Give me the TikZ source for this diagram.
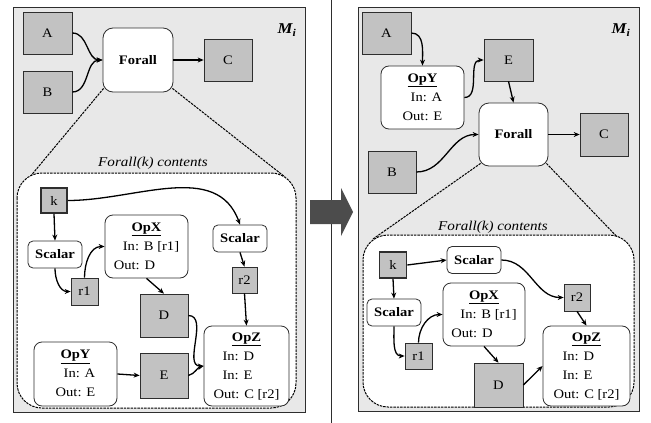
\documentclass[tikz,border=0pt]{standalone}
\usepackage{fontspec}
\setmainfont[FakeStretch=1.12]{Liberation Serif}
\usetikzlibrary{arrows.meta}
\definecolor{panelbg}{gray}{0.91}
\definecolor{boxgray}{gray}{0.76}
\definecolor{edge}{gray}{0.18}
\definecolor{bigarrow}{gray}{0.3}

\tikzset{
  every node/.style={font=\fontsize{13}{19}\selectfont},
  panel/.style={draw=edge, line width=0.8pt, fill=panelbg},
  data/.style={draw=edge, line width=0.7pt, fill=boxgray, inner sep=0pt},
  loopvar/.style={data, line width=1.6pt},
  forallbox/.style={draw=edge, line width=0.8pt, fill=white, rounded corners=10pt,
    minimum width=69pt, minimum height=63pt, font=\fontsize{13}{19}\selectfont\bfseries},
  opbox/.style={draw=edge, line width=0.8pt, fill=white, rounded corners=8pt,
    minimum width=83pt, minimum height=63pt, inner sep=2pt},
  scalarbox/.style={draw=edge, line width=0.8pt, fill=white, rounded corners=5pt,
    minimum width=54pt, minimum height=27pt, inner sep=1pt, font=\fontsize{13}{19}\selectfont\bfseries},
  contents/.style={draw=black, line width=1pt, dash pattern=on 2.4pt off 1pt, fill=white, rounded corners=25pt},
  zoomline/.style={draw=black, line width=1pt, dash pattern=on 2.4pt off 1pt},
  flow/.style={draw=black, line width=1.3pt, -{Stealth[length=6pt,width=5pt]}},
  tag/.style={font=\fontsize{13.5}{16}\selectfont\itshape},
  modname/.style={font=\fontsize{15}{18}\selectfont\bfseries\itshape},
}
\newcommand{\optext}[2]{\begin{tabular}{@{}l@{}}\multicolumn{1}{@{}c@{}}{\textbf{\underline{#1}}}\\#2\end{tabular}}

\begin{document}
\begin{tikzpicture}[x=1pt, y=-1pt]
\useasboundingbox (0,0) rectangle (651,423);

% ---------- left module ----------
\draw[panel] (13,7) rectangle (305,412);
\node[modname] (mL) at (287,30) {M\textsubscript{i}};

\node[data, minimum width=49pt, minimum height=42pt] (aL) at (47.5,33) {A};
\node[data, minimum width=49pt, minimum height=42pt] (bL) at (47.5,92) {B};
\node[forallbox, minimum width=70pt, minimum height=64pt] (fL) at (138,60) {Forall};
\node[data, minimum width=48pt, minimum height=42pt] (cL) at (228,60) {C};

\draw[flow] (aL.east) to[out=0,in=180] (fL.west);
\draw[flow] (bL.east) to[out=0,in=180] (fL.west);
\draw[flow] (fL.east) -- (cL.west);

\coordinate (zL1) at (19,190);
\coordinate (zL2) at (285,177);
\draw[zoomline] (fL.south west) ++(1,-4) -- (zL1);
\draw[zoomline] (fL.south east) ++(-1,-4) -- (zL2);
\draw[contents] (17,173) rectangle (296,408);
\node[tag] (tL) at (153,163) {Forall(k) contents};

\node[loopvar, minimum width=26pt, minimum height=25pt] (kL) at (54,200.5) {k};
\node[scalarbox] (s1L) at (55,254.5) {Scalar};
\node[data, minimum width=27pt, minimum height=27pt] (r1L) at (84.5,291.5) {r1};
\node[opbox] (xL) at (146.5,246.5) {\optext{OpX}{\hspace{9pt}In: B [r1]\\Out: D}};
\node[scalarbox] (s2L) at (240,238.5) {Scalar};
\node[data, minimum width=25pt, minimum height=26pt] (r2L) at (244.5,280) {r2};
\node[data, minimum width=48pt, minimum height=43pt] (dL) at (164,315.5) {D};
\node[opbox, minimum height=64pt] (yL) at (75.5,374) {\optext{OpY}{\hspace{8pt}In: A\\Out: E}};
\node[data, minimum width=48pt, minimum height=45pt] (eL) at (164,375.5) {E};
\node[opbox, minimum width=85pt, minimum height=80pt] (zL) at (246.5,366) {\optext{OpZ}{\hspace{9pt}In: D\\\hspace{9pt}In: E\\Out: C [r2]}};

\draw[flow] (kL.south) -- (s1L.north);
\draw[flow] (kL.east) to[out=0,in=110] (s2L.north);
\draw[flow] (s1L.south) to[out=-90,in=180] (r1L.west);
\draw[flow] (r1L.north) to[out=90,in=180] (xL.west);
\draw[flow] (xL.south) -- (dL.north);
\draw[flow] (s2L.south) -- (r2L.north);
\draw[flow] (r2L.south) -- (zL.north);
\draw[flow] (dL.east) to[out=0,in=180] (zL.west);
\draw[flow] (yL.east) -- (eL.west);
\draw[flow] (eL.east) to[out=15,in=195] (zL.west);

% ---------- divider and transform arrow ----------
\coordinate (divTop) at (331,0);
\coordinate (divBot) at (331,423);
\draw[edge, line width=0.8pt] (divTop) -- (divBot);
\fill[bigarrow] (310,200) -- (341,200) -- (341,188) -- (353,212) -- (341,236) -- (341,224) -- (310,224) -- cycle;

% ---------- right module ----------
\draw[panel] (358,7) rectangle (639,411);
\node[modname] (mR) at (621,30) {M\textsubscript{i}};

\node[data, minimum width=49pt, minimum height=42pt] (aR) at (386.5,33) {A};
\node[opbox] (yR) at (422.5,97.5) {\optext{OpY}{\hspace{8pt}In: A\\Out: E}};
\node[data, minimum width=49pt, minimum height=42pt] (eR) at (508.5,60) {E};
\node[forallbox] (fR) at (513.5,134.5) {Forall};
\node[data, minimum width=48pt, minimum height=43pt] (cR) at (604,134.5) {C};
\node[data, minimum width=48pt, minimum height=42pt] (bR) at (392,172) {B};

\draw[flow] (aR.east) to[out=0,in=90] (yR.north);
\draw[flow] (yR.east) to[out=0,in=180] (eR.west);
\draw[flow] (eR.south) -- (fR.north);
\draw[flow] (bR.east) to[out=0,in=180] (fR.west);
\draw[flow] (fR.east) -- (cR.west);

\coordinate (zR1) at (373,239);
\coordinate (zR2) at (623,243);
\draw[zoomline] (fR.south west) ++(2,-3) -- (zR1);
\draw[zoomline] (fR.south east) ++(-2,-3) -- (zR2);
\draw[contents] (363,235) rectangle (634,407);
\node[tag] (tR) at (493,227) {Forall(k) contents};

\node[loopvar, minimum width=27pt, minimum height=26pt] (kR) at (393,265) {k};
\node[scalarbox] (stR) at (474,260) {Scalar};
\node[scalarbox] (slR) at (394,312.5) {Scalar};
\node[data, minimum width=27pt, minimum height=26pt] (r1R) at (418.5,356) {r1};
\node[opbox, minimum width=82pt] (xR) at (484,314.5) {\optext{OpX}{\hspace{9pt}In: B [r1]\\Out: D}};
\node[data, minimum width=26pt, minimum height=27pt] (r2R) at (577,297.5) {r2};
\node[opbox, minimum width=87pt, minimum height=80pt] (zR) at (586.5,366) {\optext{OpZ}{\hspace{9pt}In: D\\\hspace{9pt}In: E\\Out: C [r2]}};
\node[data, minimum width=49pt, minimum height=44pt] (dR) at (498.5,385) {D};

\draw[flow] (kR.east) -- (stR.west);
\draw[flow] (stR.east) to[out=0,in=180] (r2R.west);
\draw[flow] (kR.south) -- (slR.north);
\draw[flow] (slR.south) to[out=-90,in=180] (r1R.west);
\draw[flow] (r1R.north) to[out=90,in=180] (xR.west);
\draw[flow] (xR.south) -- (dR.north);
\draw[flow] (r2R.south) -- (zR.north);
\draw[flow] (dR.east) -- (zR.west);
\end{tikzpicture}
\end{document}
